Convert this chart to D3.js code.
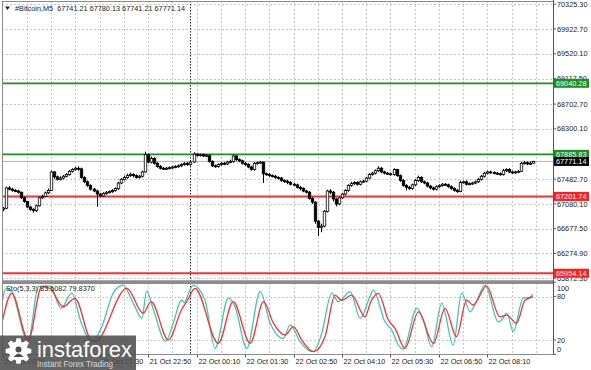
<!DOCTYPE html>
<html>
<head>
<meta charset="utf-8">
<script src="https://cdn.jsdelivr.net/npm/d3@7"></script>
<style>
  body { margin: 0; background: #fff; }
  text { font-family: "Liberation Sans", Arial, sans-serif; }
</style>
</head>
<body>
<svg id="chart" width="591" height="370"></svg>
<script>
// M5 candles, 21 Oct 18:50 -> 22 Oct 09:25
var firstOpen = 66990;
var closes = [67010,67340,67320,67300,67290,67270,67180,67120,67030,66990,
  66970,67050,67180,67200,67260,67300,67600,67520,67480,67500,
  67530,67560,67610,67640,67660,67650,67510,67440,67380,67320,
  67290,67240,67210,67250,67270,67280,67300,67330,67420,67480,
  67510,67540,67560,67540,67510,67530,67600,67880,67760,67820,
  67740,67690,67660,67650,67660,67670,67680,67690,67700,67720,
  67740,67720,67760,67890,67870,67880,67860,67870,67770,67700,
  67690,67720,67740,67730,67760,67770,67860,67800,67780,67740,
  67720,67680,67640,67740,67750,67760,67570,67560,67540,67530,
  67510,67500,67460,67450,67430,67400,67390,67350,67330,67290,
  67270,67170,67110,66800,66700,66720,66960,67290,67270,67160,
  67080,67180,67240,67300,67380,67410,67430,67400,67440,67450,
  67500,67560,67580,67620,67660,67600,67580,67570,67560,67640,
  67540,67460,67380,67350,67330,67390,67460,67510,67440,67420,
  67370,67340,67320,67360,67380,67400,67390,67360,67330,67300,
  67280,67430,67440,67400,67410,67420,67440,67480,67530,67580,
  67600,67590,67580,67570,67560,67620,67640,67600,67590,67600,
  67610,67740,67750,67730,67741.21,67771.14];
var highs = [67030,67360,67370,67340,67320,67310,67280,67200,67130,67050,
  67010,67070,67200,67230,67280,67330,67620,67610,67540,67530,
  67550,67580,67630,67660,67680,67690,67670,67530,67460,67400,
  67340,67310,67260,67270,67290,67300,67320,67350,67440,67500,
  67540,67570,67590,67580,67560,67550,67620,67930,67900,67850,
  67840,67760,67710,67680,67680,67690,67700,67710,67720,67740,
  67760,67760,67790,67920,67910,67900,67900,67890,67880,67790,
  67720,67740,67760,67760,67780,67800,67880,67870,67820,67800,
  67760,67740,67700,67760,67770,67780,67770,67590,67580,67560,
  67550,67530,67520,67480,67470,67450,67420,67410,67370,67350,
  67310,67290,67190,67120,66820,66760,66980,67310,67320,67290,
  67180,67200,67260,67320,67400,67440,67450,67450,67460,67470,
  67520,67580,67600,67640,67690,67680,67620,67600,67590,67660,
  67650,67560,67480,67400,67370,67410,67480,67540,67530,67460,
  67440,67390,67360,67380,67400,67420,67420,67410,67380,67350,
  67320,67460,67460,67460,67430,67440,67460,67500,67550,67600,
  67620,67620,67610,67600,67590,67650,67660,67660,67620,67620,
  67630,67760,67780,67770,67770,67780.13];
var lows = [66960,67000,67300,67280,67270,67250,67160,67100,67010,66970,
  66937,66950,67040,67160,67190,67240,67290,67490,67460,67460,
  67480,67510,67540,67590,67620,67620,67490,67420,67360,67300,
  67270,67035,67190,67190,67230,67250,67260,67280,67310,67400,
  67460,67490,67520,67510,67490,67490,67510,67590,67740,67740,
  67720,67670,67640,67630,67630,67640,67650,67660,67670,67680,
  67700,67700,67700,67750,67850,67850,67840,67840,67750,67680,
  67670,67670,67700,67710,67710,67740,67750,67780,67760,67720,
  67700,67660,67620,67620,67720,67730,67420,67540,67520,67510,
  67490,67480,67440,67420,67400,67380,67370,67330,67300,67270,
  67250,67150,67080,66760,66560,66620,66700,66940,67240,67120,
  67040,67060,67160,67220,67280,67360,67390,67380,67380,67420,
  67430,67480,67540,67560,67600,67580,67560,67550,67540,67540,
  67520,67440,67360,67300,67310,67310,67370,67440,67420,67400,
  67350,67320,67300,67300,67340,67360,67370,67340,67310,67280,
  67260,67270,67410,67380,67380,67390,67400,67420,67460,67510,
  67560,67570,67560,67550,67540,67540,67600,67580,67570,67570,
  67580,67600,67720,67710,67710,67741.21];
// each bar opens at the previous bar's close
var opens = [firstOpen].concat(closes.slice(0, -1));

// Stochastic (5,3,3): bar index / value read at turning points
var kIdx = [0,1,3,7.4,8.5,11.8,15.6,19.3,22.8,26,29.4,32.7,36.5,39.8,43,46,47.5,49.7,53.8,56.3,
  59,60,61.3,62.9,66.8,70.1,74.5,76.7,80.6,85,88.3,92.6,94.9,98.2,100.9,102.6,105.3,108.6,110.8,114.7,
  118,121.3,122.3,126.2,128.4,130.6,132.2,136.7,138.8,141.6,144.9,148.7,151.5,154.3,156.5,159.2,163.6,164.7,166.4,168.5,
  171.8,174,175];
var kVal = [75,91,87,24.5,20,94,95,64,85,43,17.6,38,85,96,72,50,88,63,18,43,
  75,72,84,96,75,8.4,78,66,8.4,87,43,22,41,17.6,6,4,29,85,73,87,
  50,81,89,45,34,13,7.5,64,48,10.7,71,13,85,59,75,96,45,47.6,57,31.5,
  78,79,83.5082];
var dIdx = [0,3,8.5,12.9,15.6,20,23.9,28.8,30.5,41,46.4,49,54.7,59,61,63.5,71.2,76.1,81.7,86.1,
  89.4,93.2,96,98.7,102.6,106.4,109.7,111.9,115.2,119.6,121.5,124,127.3,129.5,132.8,137.2,142.2,146,149.8,153.1,
  155.3,159.7,164.1,166.4,169.6,172.4,175];
var dVal = [47.6,84.6,20,93.8,91.5,66,77.7,22.3,17.6,91.5,57,73,20,61.5,75,91.5,15.3,73,15.3,73,
  43,26.9,38.4,20,3.8,24.5,82,75,82,52,73,84.6,47.6,36,8.4,59,15.3,63.8,24.5,75,
  68.4,94.7,52,54.5,43,75,79.8370];

var priceTicks = [70325.30,69922.70,69520.10,69117.50,68702.70,68300.10,67897.50,67482.70,67080.10,66677.50,66274.90,65872.30];
var stochLevels = [100, 80, 20, 0];
var timeLabels = ["21 Oct 2024","21 Oct 21:30","21 Oct 22:50","22 Oct 00:10","22 Oct 01:30","22 Oct 02:50","22 Oct 04:10","22 Oct 05:30","22 Oct 06:50","22 Oct 08:10"];
var timeLabelIdx = [0,32,48,64,80,96,112,128,144,160];
var greenLevels = [69040.28, 67885.83];
var redLevels = [67201.74, 65954.14];
var dayStartIdx = 62;

var plotL = 2, plotR = 553, mainT = 1, mainB = 281, subT = 283, subB = 354.5;
var fs = 7.3;

var svg = d3.select("#chart");

var x = d3.scaleLinear().domain([0, 175]).range([2.6, 532.9]);
var yMain = d3.scaleLinear().domain([65827.7, 70361.5]).range([281, 2]);
var ySub = d3.scaleLinear().domain([0, 100]).range([354.4, 282.2]);

svg.append("clipPath").attr("id", "clipMain").append("rect")
  .attr("x", plotL).attr("y", mainT).attr("width", plotR - plotL).attr("height", mainB - mainT);
svg.append("clipPath").attr("id", "clipSub").append("rect")
  .attr("x", plotL).attr("y", subT).attr("width", plotR - plotL).attr("height", subB - subT);

// grid
var grid = svg.append("g").attr("stroke", "#c6c6c6").attr("stroke-dasharray", "2,2").attr("stroke-width", 1);
grid.selectAll(".hg").data(priceTicks).enter().append("line")
  .attr("x1", plotL).attr("x2", plotR)
  .attr("y1", function(d){ return Math.round(yMain(d)) + 0.5; })
  .attr("y2", function(d){ return Math.round(yMain(d)) + 0.5; });
grid.selectAll(".sg").data([80, 20]).enter().append("line")
  .attr("x1", plotL).attr("x2", plotR)
  .attr("y1", function(d){ return Math.round(ySub(d)) + 0.5; })
  .attr("y2", function(d){ return Math.round(ySub(d)) + 0.5; });
var vIdx = d3.range(8, 184, 8).filter(function(i){ return x(i) < plotR; });
vIdx.forEach(function(i) {
  var xx = Math.round(x(i)) + 0.5;
  grid.append("line").attr("x1", xx).attr("x2", xx).attr("y1", mainT).attr("y2", mainB);
  grid.append("line").attr("x1", xx).attr("x2", xx).attr("y1", subT).attr("y2", subB);
});

// day separator
var xd = Math.round(x(dayStartIdx)) + 0.5;
svg.append("line").attr("x1", xd).attr("x2", xd).attr("y1", mainT).attr("y2", subB)
  .attr("stroke", "#222").attr("stroke-dasharray", "1.5,1.5");

// level lines
var main = svg.append("g").attr("clip-path", "url(#clipMain)");
main.append("line").attr("x1", plotL).attr("x2", plotR)
  .attr("y1", yMain(closes[closes.length - 1])).attr("y2", yMain(closes[closes.length - 1]))
  .attr("stroke", "#b0b0b0").attr("stroke-width", 1);
main.selectAll(".gl").data(greenLevels).enter().append("line")
  .attr("x1", plotL).attr("x2", plotR)
  .attr("y1", function(d){ return yMain(d); }).attr("y2", function(d){ return yMain(d); })
  .attr("stroke", "#1e8f1e").attr("stroke-width", 1.7);
main.selectAll(".rl").data(redLevels).enter().append("line")
  .attr("x1", plotL).attr("x2", plotR)
  .attr("y1", function(d){ return yMain(d); }).attr("y2", function(d){ return yMain(d); })
  .attr("stroke", "#ff2e2e").attr("stroke-width", 2);

// candles
var idx = d3.range(closes.length);
main.selectAll(".wick").data(idx).enter().append("line")
  .attr("x1", function(i){ return Math.round(x(i)) + 0.5; })
  .attr("x2", function(i){ return Math.round(x(i)) + 0.5; })
  .attr("y1", function(i){ return yMain(highs[i]); })
  .attr("y2", function(i){ return yMain(lows[i]); })
  .attr("stroke", "#000").attr("stroke-width", 1);
main.selectAll(".body").data(idx).enter().append("rect")
  .attr("x", function(i){ return Math.round(x(i)) + 0.5 - 1.25; })
  .attr("width", 2.5)
  .attr("y", function(i){ return yMain(Math.max(opens[i], closes[i])); })
  .attr("height", function(i){ return Math.max(1, Math.abs(yMain(opens[i]) - yMain(closes[i]))); })
  .attr("fill", function(i){ return closes[i] >= opens[i] ? "#fff" : "#000"; })
  .attr("stroke", "#000").attr("stroke-width", 0.8);

// stochastic
var sub = svg.append("g").attr("clip-path", "url(#clipSub)");
var line = d3.line()
  .x(function(d){ return x(d[0]); })
  .y(function(d){ return ySub(d[1]); })
  .curve(d3.curveMonotoneX);
sub.append("path").datum(d3.zip(kIdx, kVal)).attr("d", line)
  .attr("fill", "none").attr("stroke", "#3cc8b4").attr("stroke-width", 1.3);
sub.append("path").datum(d3.zip(dIdx, dVal)).attr("d", line)
  .attr("fill", "none").attr("stroke", "#ff2e2e").attr("stroke-width", 1.3);

// frames
svg.append("rect").attr("x", plotL + 0.5).attr("y", mainT + 0.5)
  .attr("width", plotR - plotL).attr("height", mainB - mainT - 0.5)
  .attr("fill", "none").attr("stroke", "#8c8c8c");
svg.append("rect").attr("x", plotL).attr("y", 280.5).attr("width", plotR - plotL + 1).attr("height", 2.5)
  .attr("fill", "#8c8c8c");
svg.append("rect").attr("x", plotL + 0.5).attr("y", subT + 0.5)
  .attr("width", plotR - plotL).attr("height", subB - subT - 0.5)
  .attr("fill", "none").attr("stroke", "#8c8c8c");
svg.append("line").attr("x1", plotR + 0.5).attr("x2", plotR + 0.5).attr("y1", 0).attr("y2", subB)
  .attr("stroke", "#555");

// price axis
var pa = svg.append("g");
priceTicks.forEach(function(v) {
  var yy = yMain(v);
  pa.append("line").attr("x1", plotR).attr("x2", plotR + 3).attr("y1", yy).attr("y2", yy).attr("stroke", "#555");
  pa.append("text").attr("x", plotR + 4).attr("y", yy + 2.6).attr("font-size", fs).attr("fill", "#222")
    .text(v.toFixed(2));
});
stochLevels.forEach(function(v) {
  var yy = Math.min(subB - 5, Math.max(subT + 5, ySub(v)));
  pa.append("line").attr("x1", plotR).attr("x2", plotR + 3).attr("y1", ySub(v)).attr("y2", ySub(v)).attr("stroke", "#555");
  pa.append("text").attr("x", plotR + 4).attr("y", yy + 2.6).attr("font-size", fs).attr("fill", "#222").text(v);
});

function priceBox(v, fill) {
  var yy = yMain(v);
  pa.append("rect").attr("x", plotR + 1).attr("y", yy - 4.5).attr("width", 35).attr("height", 9).attr("fill", fill);
  pa.append("text").attr("x", plotR + 3).attr("y", yy + 2.6).attr("font-size", fs).attr("fill", "#fff")
    .text(v.toFixed(2));
}
greenLevels.forEach(function(v){ priceBox(v, "#1e8f1e"); });
redLevels.forEach(function(v){ priceBox(v, "#ff1e1e"); });
priceBox(closes[closes.length - 1], "#000");

// time axis
var ta = svg.append("g");
timeLabels.forEach(function(t, k) {
  var xx = Math.round(x(timeLabelIdx[k])) + 0.5;
  ta.append("line").attr("x1", xx).attr("x2", xx).attr("y1", subB).attr("y2", subB + 3).attr("stroke", "#555");
  ta.append("text").attr("x", xx + 1).attr("y", subB + 9.5).attr("font-size", fs).attr("fill", "#222").text(t);
});

// titles
var last = closes.length - 1;
svg.append("path").attr("d", "M5,6.5 L10,6.5 L7.5,10 Z").attr("fill", "#222");
svg.append("text").attr("x", 15).attr("y", 10.8).attr("font-size", fs).attr("fill", "#222")
  .attr("xml:space", "preserve")
  .text("#Bitcoin,M5  " + [opens[last], highs[last], lows[last], closes[last]].map(function(v){ return v.toFixed(2); }).join(" "));
svg.append("text").attr("x", 6).attr("y", 291).attr("font-size", fs).attr("fill", "#222")
  .text("Sto(5,3,3) " + kVal[kVal.length - 1].toFixed(4) + " " + dVal[dVal.length - 1].toFixed(4));

// instaforex logo
var logo = svg.append("g");
logo.append("rect").attr("x", 0).attr("y", 335.5).attr("width", 136).attr("height", 35)
  .attr("fill", "#4e4e4e").attr("opacity", 0.88);
var cx = 18.5, cy = 351, rO = 13, rI = 9.5, teeth = 8, pts = [];
for (var k = 0; k < teeth; k++) {
  var a = k * 2 * Math.PI / teeth, hw = Math.PI / teeth * 0.5;
  pts.push([cx + rI * Math.cos(a - hw * 1.6), cy + rI * Math.sin(a - hw * 1.6)]);
  pts.push([cx + rO * Math.cos(a - hw * 0.8), cy + rO * Math.sin(a - hw * 0.8)]);
  pts.push([cx + rO * Math.cos(a + hw * 0.8), cy + rO * Math.sin(a + hw * 0.8)]);
  pts.push([cx + rI * Math.cos(a + hw * 1.6), cy + rI * Math.sin(a + hw * 1.6)]);
}
logo.append("path").attr("d", "M" + pts.join("L") + "Z").attr("fill", "#fff");
logo.append("circle").attr("cx", cx).attr("cy", cy - 1.5).attr("r", 3).attr("fill", "#4e4e4e");
logo.append("path").attr("d", "M" + (cx - 5) + "," + (cy + 6) + " Q" + cx + "," + (cy - 1) + " " + (cx + 5) + "," + (cy + 6) + " Z")
  .attr("fill", "#4e4e4e");
logo.append("text").attr("x", 37).attr("y", 356.5).attr("font-size", 22).attr("fill", "#fff")
  .attr("font-family", "'Open Sans', 'Noto Sans', sans-serif")
  .attr("textLength", 95).attr("lengthAdjust", "spacingAndGlyphs").text("instaforex");
logo.append("text").attr("x", 37).attr("y", 366.5).attr("font-size", 8.5).attr("fill", "#d8d8d8")
  .attr("textLength", 76).attr("lengthAdjust", "spacingAndGlyphs").text("Instant Forex Trading");
</script>
</body>
</html>
